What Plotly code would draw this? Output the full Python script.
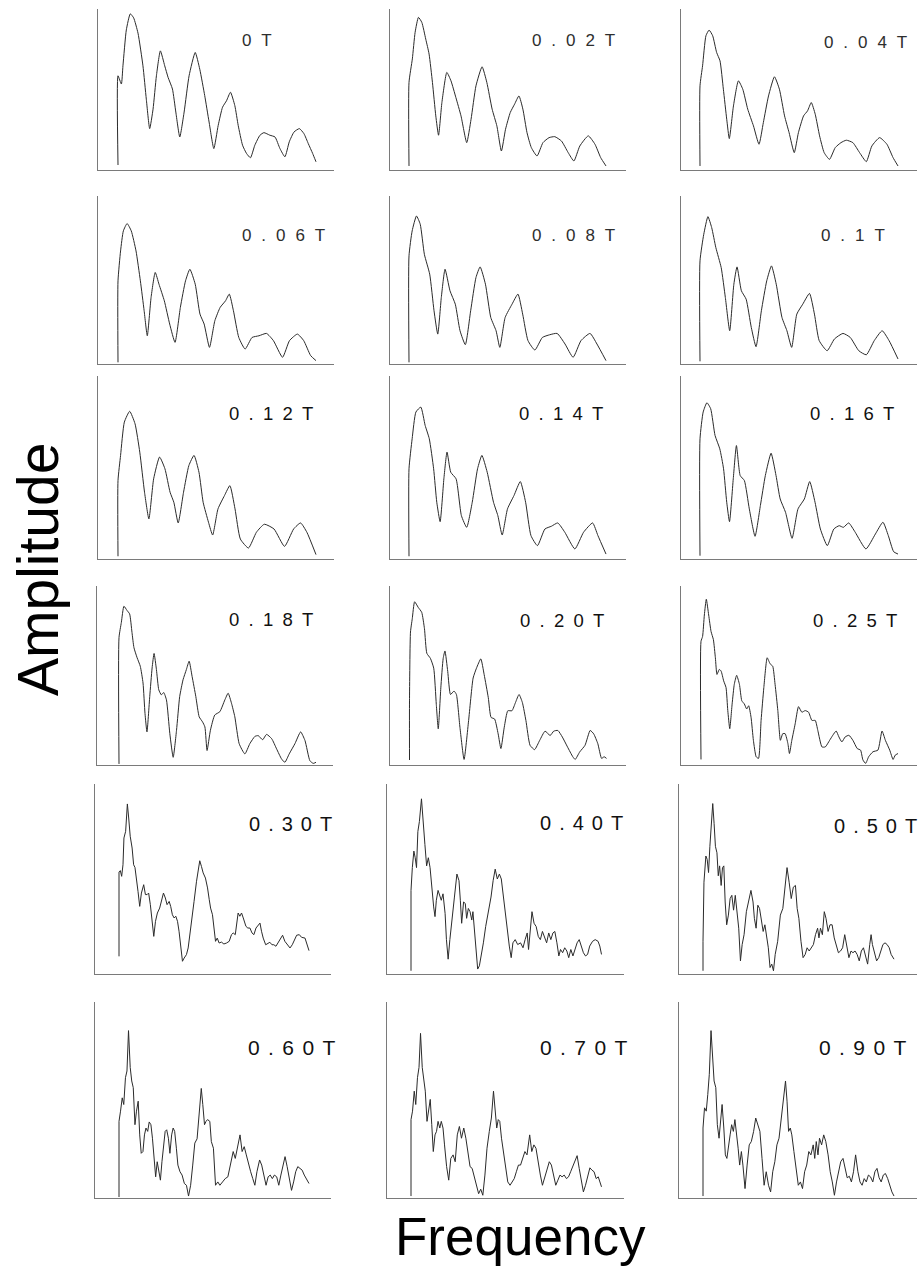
import plotly.graph_objects as go

W, H = 922, 1266

# Amplitude spectra, (frequency, amplitude) pairs; frequency 0-100, amplitude 0-100 of panel height
S_0T = [(0, 3.1), (0, 58.5), (1.7, 53.4), (2.5, 64.7), (4.2, 87), (6.2, 97), (7.9, 94.5), (10.1, 85), (12.6, 64.7),
        (14.3, 44), (16, 25.7), (17.7, 37.8), (19.4, 58.5), (21.4, 74), (23.6, 64.7), (25.3, 57.5), (27.5, 50.3),
        (29.2, 36), (31.2, 20.5), (33.4, 36), (35.9, 58.5), (39, 73), (41.3, 62.6), (43.8, 46.2), (46, 29.8),
        (48.4, 13.3), (50.6, 27.7), (52.8, 39), (54.8, 43), (56.8, 48.3), (59, 40), (60.7, 27.7), (62.9, 15.4),
        (64.9, 10.3), (66.9, 7.6), (69.1, 15.4), (71.7, 21.6), (73.7, 23.2), (76.7, 21.6), (79.3, 20.5),
        (81.8, 13.3), (84.3, 8.2), (86.5, 17.5), (88.9, 23.6), (91.6, 25.7), (93.9, 22.6), (96.1, 16.4),
        (98.3, 10.3), (100, 5.1)]

S_002T = [(0, 2.5), (0, 54.4), (1.7, 69), (3.1, 85.5), (4.8, 94.8), (6.5, 91.7), (8.5, 81.3), (10.2, 72),
          (11.9, 54.4), (13.6, 33.6), (15, 21.6), (16.7, 41.9), (19.2, 60.6), (21.3, 55.4), (23.8, 45),
          (26.4, 33.6), (29.3, 17), (31.5, 31.5), (34, 52.3), (37.1, 64.1), (39.5, 54.4), (42.2, 37.8),
          (44.6, 27.4), (46.9, 11.8), (49, 25.3), (51.4, 35.7), (53.6, 40.9), (55.8, 46), (57.8, 37.8),
          (59.9, 23.2), (62.1, 13.9), (65, 8.7), (68, 17), (71.1, 20.1), (74, 20.7), (77.4, 18), (80.8, 10.8),
          (83.7, 5.6), (86.7, 14.9), (91, 21.2), (94.4, 16), (97.3, 7.7), (100, 2.5)]

S_004T = [(0, 2.5), (0, 52.3), (1.3, 64.7), (3, 83.4), (4.6, 86.9), (6.4, 83.4), (8.4, 73), (10.1, 67.8),
          (11.8, 50.2), (13.5, 31.5), (14.8, 19.5), (16.9, 39.8), (19.4, 55.4), (21.6, 50.2), (24.1, 37.8),
          (27, 27.4), (29.8, 16), (32, 29.5), (34.6, 46), (37.6, 57.9), (40.1, 50.2), (42.7, 33.6), (45, 23.2),
          (47.6, 10.8), (49.7, 23.2), (52.3, 33.6), (54.3, 36.7), (56.2, 41.9), (58.2, 34.6), (60.4, 21.2),
          (62.7, 10.8), (65.4, 6.6), (68.3, 13.9), (71.2, 17), (73.9, 18.5), (77.2, 17), (80.6, 10.8), (84, 5.2),
          (86.8, 14.9), (90.7, 20.1), (94.4, 16), (97.5, 7.7), (100, 2.5)]

S_006T = [(0, 1), (0, 49.5), (1.3, 67.3), (2.7, 79.2), (4.6, 83.6), (6.7, 79.2), (9.1, 67.3), (11.3, 49.5),
          (13.2, 31.7), (14.8, 16.8), (16.7, 39.6), (18.8, 54.5), (20.7, 47.5), (23.4, 37.6), (26.1, 23.8),
          (28.8, 12.9), (31.5, 33.7), (34.1, 49.5), (36.3, 56.4), (39, 47.5), (41.4, 29.7), (43.5, 23.8),
          (46.2, 9.9), (48.9, 25.7), (51.6, 33.7), (54.3, 37.6), (56.2, 41.6), (58.3, 31.7), (61, 15.8),
          (64.2, 8.9), (67.7, 15.8), (71.2, 16.8), (75, 18.2), (78.5, 13.9), (83.1, 4), (86.6, 13.9),
          (90.6, 17.8), (93.8, 13.9), (97.3, 5), (100, 2)]

S_008T = [(0, 1), (0, 64.4), (1.6, 79.2), (3.8, 88.1), (5.7, 83.2), (7.8, 65.3), (10.5, 53.5), (12.7, 31.7),
          (14.6, 17.8), (16.4, 39.6), (18.3, 56.4), (20.8, 43.6), (23.5, 35.6), (25.9, 19.8), (28.6, 11.5),
          (31.3, 31.7), (34, 51.5), (36.1, 57.8), (38.8, 47.5), (41.5, 27.7), (44.2, 19.8), (46.1, 9.9),
          (48.8, 27.7), (52.3, 35.6), (55.3, 41.6), (57.7, 29.7), (60.4, 13.9), (63.9, 8.3), (67.7, 15.8),
          (71.4, 17.4), (75.2, 18.2), (79.2, 11.9), (83.3, 4), (87.3, 13.9), (91.9, 18.2), (95.4, 11.9), (100, 2)]

S_010T = [(0, 1.6), (0, 61.4), (1.9, 77.2), (4, 87.7), (5.9, 81.2), (8, 69.3), (10.7, 57.4), (12.8, 39.6),
          (15, 19.8), (17.1, 47.5), (18.7, 57.8), (20.9, 43.6), (23.3, 38.6), (25.9, 21.8), (28.3, 10.3),
          (31, 31.7), (33.7, 49.5), (36.1, 58.4), (38.5, 47.5), (41.4, 27.7), (43.9, 19.8), (46.3, 9.9),
          (48.9, 29.7), (51.9, 35.6), (55.3, 42), (57.8, 29.7), (60.2, 13.9), (64.2, 7.9), (67.9, 14.9),
          (72.2, 18.2), (75.9, 15.8), (80.2, 7.9), (84, 5.5), (88, 13.9), (92, 19.8), (95.5, 13.9), (100, 3)]

S_012T = [(0, 1.5), (0, 42.9), (1.3, 56.6), (3.2, 74.8), (5.9, 80.7), (8.6, 73.9), (11, 58.4), (13.4, 36.5),
          (15.6, 21.9), (18, 43.8), (21, 55.7), (23.7, 49.3), (26.3, 36.5), (28.2, 31), (30.4, 19.7),
          (33.1, 36.5), (35.8, 51.1), (38.4, 56.6), (40.9, 47.4), (43, 31), (45.7, 20.1), (47.8, 13.1),
          (50.5, 27.4), (53.8, 34.7), (56.5, 40.1), (59.1, 27.4), (61.8, 10.9), (65.9, 6), (69.9, 14.6),
          (73.9, 19), (78.8, 16.4), (84.1, 6.9), (88.7, 16.4), (92.2, 19.7), (95.4, 14.6), (100, 2.4)]

S_014T = [(0, 1.5), (0, 49.3), (1.6, 65.7), (3.5, 80.3), (6, 83), (8.2, 73), (10.3, 65.7), (12.5, 49.3),
          (14.1, 31), (15.8, 20.4), (17.7, 43.8), (19.3, 58.4), (21.2, 47.4), (23.9, 43.8), (26.6, 23.7),
          (29.3, 17.3), (32.1, 31), (34.8, 49.3), (37, 56.6), (39.7, 47.4), (42.9, 31), (45.1, 23.7),
          (47.3, 13.1), (50, 27.4), (53.3, 34.7), (56.5, 42.3), (59.2, 31), (61.9, 12.8), (65.2, 7.3),
          (69, 16.4), (72.3, 17.9), (75.5, 19.7), (79.1, 14.6), (84.2, 5.5), (88.6, 14.6), (93.2, 19.7),
          (95.9, 12.8), (100, 2.7)]

S_016T = [(0, 1.8), (0, 65.7), (1.6, 80.3), (3.5, 85.4), (5.4, 82.1), (7.6, 67.5), (10, 60.2), (11.9, 49.3),
          (13.5, 31), (14.9, 20.4), (16.8, 43.8), (18.4, 62), (20.3, 45.6), (22.4, 42.9), (24.9, 27.4),
          (27.8, 12.4), (30.5, 29.2), (33, 45.6), (35.9, 57.8), (38.4, 45.6), (40.5, 32.8), (43.2, 25.5),
          (46.5, 11.3), (49.5, 27.4), (52.7, 32.8), (55.4, 42.3), (58.1, 31), (60.8, 16.4), (64.3, 7.3),
          (67.6, 16.4), (70.3, 18.2), (72.4, 17.3), (75.1, 19.7), (78.4, 14.6), (83.8, 5.5), (88.6, 13.7),
          (92.4, 20.1), (95.1, 12.8), (97.8, 4), (100, 2.7)]

S_018T = [(0, 0.6), (0, 71.2), (1.2, 79.7), (2.5, 88.7), (4.1, 86.3), (5.4, 84.4), (6.6, 74), (7.6, 65.5),
          (9.2, 59.9), (10.8, 55.2), (12.2, 45.8), (13.2, 28.8), (14.2, 18.5), (15.6, 38.2), (16.8, 54.2),
          (17.8, 62.3), (19, 53.3), (20.2, 42), (21.5, 39.2), (22.7, 40.5), (24.1, 36.3), (25.8, 17.5),
          (27.5, 4.3), (29.2, 19.4), (30.8, 38.2), (32.5, 47.6), (34.2, 53.3), (35.6, 58), (37.1, 49.5),
          (39, 38.2), (40.7, 26.9), (42.4, 24.1), (43.6, 21.3), (44.7, 8.1), (46.4, 19.4), (48.6, 27.9),
          (51.2, 29.8), (53.7, 36.3), (55.4, 40.1), (57.1, 34.5), (58.8, 26.9), (61, 11.9), (63.9, 6.2),
          (66.4, 11.9), (69, 16), (70.7, 16.4), (72.9, 14.1), (74.9, 17.1), (77.5, 14.7), (80, 9), (82.5, 3.4),
          (84.2, 1.5), (86.4, 6.2), (89.3, 11.9), (92.2, 18.5), (94.4, 13.7), (96.9, 2.4), (98.6, 0.9), (100, 1.5)]

S_020T = [(0, 2.8), (0, 35.8), (0.5, 74.3), (1.4, 81.7), (2.6, 91.2), (4.4, 88.1), (6.2, 85.3), (7.6, 76.1),
          (8.8, 62.4), (10.6, 59.6), (12.3, 54.1), (13.6, 33.9), (14.6, 20.2), (15.9, 43.1), (17.1, 59.6),
          (18, 63.7), (19.4, 52.3), (20.8, 39.4), (22.6, 41.3), (23.8, 39.4), (25.6, 21.1), (27.7, 3.1),
          (30, 24.8), (32.3, 48.6), (34, 54.1), (36.2, 59.3), (37.9, 50.5), (40, 37.6), (41.4, 26.6),
          (43.2, 25.7), (45, 17.4), (46.4, 9.2), (48.1, 21.1), (49.9, 30.3), (52, 30.3), (53.8, 34.9),
          (55.6, 39.4), (57.3, 34.9), (59.1, 24.8), (61.2, 11), (63.5, 8.6), (66.1, 13.8), (68.8, 18.9),
          (71.4, 16.5), (73.2, 18.9), (75.3, 19.3), (77.6, 15.6), (80.2, 10.1), (82.9, 4.6), (84.1, 3.1),
          (86.4, 7.3), (89.1, 11), (91.7, 19.3), (93.5, 17.4), (95.6, 11.9), (97.5, 3.7), (98.8, 4.6), (100, 3.7)]

S_025T = [(0, 3.1), (0, 69.1), (0.8, 71.8), (1.7, 83.8), (2.7, 92.6), (3.9, 83.8), (5.1, 74.6), (6.3, 70),
          (7.3, 59.9), (8.1, 50.6), (9.3, 53.4), (10.2, 52.5), (11.5, 47), (12.7, 43.3), (13.6, 30.4),
          (14.6, 20.3), (15.8, 34.1), (16.9, 45.1), (18.1, 50.1), (19.5, 45.1), (20.7, 35.9), (22, 34.1),
          (23.2, 31.3), (24.2, 33.1), (25.4, 26.7), (26.6, 13.8), (28, 4.6), (29.2, 3.7), (30.5, 24.9),
          (31.9, 43.3), (33.6, 59.9), (35.1, 56.5), (36.4, 55.2), (37.6, 45.1), (39, 30.4), (40.3, 13.8),
          (41.5, 17.5), (42.7, 17.5), (44.1, 12), (44.9, 6.4), (46.1, 13.8), (47.8, 23), (49.5, 32.6),
          (51.2, 29.5), (52.9, 30.4), (54.6, 29.5), (56.3, 24.9), (58, 24.9), (59.3, 19.3), (61.4, 10.1),
          (63.1, 10.1), (65.3, 13.8), (66.9, 16.6), (68.6, 19), (70, 15.7), (71.5, 12.9), (73.2, 15.7),
          (75.1, 16.6), (77.1, 13.8), (79.3, 9.2), (81, 8.3), (82.2, 2.8), (83.6, 0.9), (85.1, 4.6), (87.3, 7.4),
          (89.8, 8.3), (91.9, 19), (93.6, 13.8), (95.8, 8.3), (97.5, 3.1), (98.6, 5.5), (100, 6.4)]

S_030T = [(0, 9.3), (0, 53.7), (0.7, 54.4), (1.4, 51.4), (2.1, 57.5), (2.6, 71.6), (3.5, 75.1), (4.4, 89.5),
          (5.1, 82.1), (5.9, 72.5), (6.9, 66.3), (7.7, 57.5), (8.4, 56.1), (9.1, 48.8), (10, 43.5), (10.9, 35.6),
          (11.8, 42.6), (13, 47), (13.9, 41.8), (14.8, 41.8), (15.6, 42.6), (16.5, 36.5), (17.4, 27.7),
          (18.3, 19.8), (19.2, 27.7), (20.2, 32.1), (21.4, 34.7), (22.3, 38.2), (23.4, 42.6), (24.4, 40),
          (25.3, 36.5), (26.4, 38.2), (27.2, 35.6), (28.1, 31.2), (29, 29.5), (29.9, 30.4), (30.8, 27.7),
          (31.6, 22.5), (32.3, 15.4), (33.4, 6.7), (34.3, 8.4), (35.5, 10.2), (36.4, 13.7), (37.3, 20.7),
          (38.5, 27.7), (39.5, 38.2), (40.8, 48.8), (41.7, 54.9), (42.5, 59.6), (43.4, 56.6), (44.3, 53.2),
          (45.5, 50.5), (46.6, 45.3), (47.5, 39.1), (48.2, 34.7), (49.2, 31.2), (49.9, 24.2), (50.8, 17.2),
          (51.7, 18.9), (52.7, 16.3), (53.9, 16.8), (55.2, 15.8), (56.6, 16.3), (58, 17.2), (59.2, 20.7),
          (60.1, 21.6), (61.2, 20.7), (61.9, 26), (62.7, 32.1), (63.6, 30.4), (64.5, 32.1), (65.4, 29.5),
          (66.8, 25.1), (67.8, 24.2), (68.9, 24.2), (70, 21.6), (71, 20.7), (72.1, 24.2), (73.3, 26),
          (74.2, 26.8), (75, 22.5), (75.9, 18.9), (77.2, 15.4), (78.2, 15.8), (79.4, 16.7), (80.5, 15.4),
          (81.5, 15.4), (82.6, 14.6), (83.7, 16.3), (85.1, 18.9), (86.1, 20.4), (87.3, 17.2), (88.6, 15.4),
          (90, 13.7), (91.2, 15.4), (92.3, 18.1), (93.5, 20.4), (94.9, 20.7), (96.1, 19.3), (97.9, 18.9),
          (98.8, 15.4), (100, 12.3)]

S_040T = [(0, 1.7), (0, 44), (0.7, 56), (1.5, 64.7), (2.2, 61.2), (2.9, 56), (3.6, 75), (4.4, 80.2), (5.5, 92.2),
          (6.4, 78.4), (7.3, 68.1), (8.2, 56.9), (9.1, 61.2), (10, 56), (11, 44), (11.9, 35.3), (12.6, 30.2),
          (13.3, 38.8), (14.2, 44), (15.1, 41.4), (15.9, 38.8), (16.8, 42.2), (17.9, 31.9), (18.6, 18.1),
          (19.5, 7.8), (20.4, 18.1), (21.5, 30.2), (22.8, 40.5), (24.1, 52.6), (25.2, 49.1), (25.9, 38.8),
          (26.6, 26.7), (27.6, 37.9), (28.5, 37.1), (29.2, 29.3), (30.1, 34.5), (31, 32.8), (31.9, 28.4),
          (32.5, 32.8), (33.2, 24.1), (34.1, 12.9), (35, 2.6), (35.9, 4.3), (36.9, 9.5), (38, 16.4), (39.2, 25),
          (40.5, 31.9), (42, 40.5), (43.1, 49.1), (44.2, 55.2), (45.3, 50), (46.4, 52.6), (47.4, 50),
          (48.5, 40.5), (49.6, 31.9), (50.7, 21.6), (51.6, 14.7), (52.6, 8.6), (53.5, 16.4), (54.7, 18.1),
          (56, 15.5), (57.5, 16.4), (58.8, 13.8), (59.9, 18.1), (61, 21.6), (61.7, 12.9), (62.6, 21.6),
          (63.5, 32.8), (64.6, 26.7), (65.7, 25), (66.8, 19.8), (67.9, 18.1), (69, 22.4), (70.1, 19.8),
          (71.2, 16.4), (72.3, 21.6), (73.4, 18.1), (74.5, 21.6), (75.5, 22.4), (76.6, 16.4), (77.6, 9.5),
          (78.5, 12.9), (79.6, 11.2), (80.7, 13.8), (81.8, 12.1), (82.8, 8.6), (83.9, 12.9), (85, 9.5),
          (86.1, 12.9), (87.2, 16.4), (88.3, 18.1), (89.4, 14.7), (90.5, 11.2), (91.6, 9.5), (92.7, 10.3),
          (93.8, 14.7), (95.3, 17.2), (96.7, 18.1), (98.2, 17.2), (99.1, 14.7), (100, 10.3)]

S_050T = [(0, 1.7), (0, 17.2), (0.5, 48.3), (1.5, 62.1), (2.2, 60.3), (2.9, 53.4), (3.6, 67.2), (4.4, 79.3),
          (5.1, 89.7), (5.8, 79.3), (6.5, 67.2), (7.3, 63.8), (8, 51.7), (8.7, 56.9), (9.5, 46.6), (10.2, 55.9),
          (10.9, 56.9), (11.6, 37.9), (12.4, 25.9), (13.3, 31), (14.2, 39.7), (15.1, 41.4), (16, 33.6),
          (16.9, 41.4), (17.8, 31), (18.7, 24.1), (19.6, 6.9), (20.5, 15.5), (21.5, 20.7), (22.7, 32.8),
          (23.8, 37.9), (25.1, 44), (26.2, 37.9), (26.9, 29.3), (27.8, 24.1), (28.7, 36.2), (29.6, 34.5),
          (30.5, 29.3), (31.5, 22.4), (32.4, 25.9), (33.3, 20.7), (34.2, 13.8), (35.1, 3.4), (36, 5.2),
          (36.9, 1.7), (37.8, 10.3), (39.1, 17.2), (40.5, 31), (41.8, 34.5), (42.9, 46.6), (44, 56), (45.1, 48.3),
          (46.2, 39.7), (47.3, 45.7), (48.4, 46.6), (49.3, 34.5), (50.2, 29.3), (51.3, 17.2), (52.4, 8.6),
          (53.5, 10.3), (54.5, 13.8), (55.6, 12.1), (56.7, 13.8), (57.8, 15.5), (58.9, 20.7), (60, 24.1),
          (60.7, 19), (61.5, 24.1), (62.5, 20.7), (63.5, 32.8), (64.4, 29.3), (65.5, 22.4), (66.5, 25.9),
          (67.6, 25.9), (68.7, 19), (69.8, 15.5), (70.9, 11.2), (72, 12.1), (73.1, 13.8), (74.2, 20.7),
          (75.3, 15.5), (76.4, 8.6), (77.5, 12.1), (78.5, 11.2), (79.6, 12.1), (80.7, 10.3), (81.8, 6.9),
          (82.9, 12.1), (84, 13.8), (85.1, 8.6), (86.2, 5.2), (87.3, 15.5), (88, 20.7), (88.7, 15.5), (89.8, 10.3),
          (90.9, 6.9), (92, 8.6), (93.1, 12.1), (94.2, 15.5), (95.3, 16.4), (96.4, 15.5), (97.5, 13.8),
          (98.5, 10.3), (100, 7.8)]

S_060T = [(0, 0.5), (0, 39.1), (0.8, 44.3), (1.7, 51.1), (2.5, 47.7), (3.4, 61.4), (4.2, 64.8), (5, 85.4),
          (5.9, 66.6), (6.7, 59.7), (7.5, 56.3), (8.4, 37.4), (9.2, 44.3), (10.1, 49.4), (10.9, 32.2), (11.7, 22.8),
          (12.6, 23.7), (13.4, 32.2), (14.2, 35.7), (15.1, 34), (15.9, 38.8), (16.8, 37.4), (17.6, 30.5),
          (18.4, 20.2), (19.3, 10.8), (20.1, 18.5), (20.9, 13.4), (21.8, 9.1), (22.6, 18.5), (23.5, 27.1),
          (24.3, 34), (25.1, 34.8), (26, 30.5), (26.8, 22.8), (27.7, 32.2), (28.5, 35.7), (29.3, 34), (30.2, 25.4),
          (31, 16.8), (32.1, 13.4), (33.2, 11.7), (34.4, 7.4), (35.5, 6.5), (36.6, 1), (37.7, 6.5), (38.8, 16.8),
          (39.9, 28), (41.1, 30.2), (42.2, 44.3), (43.3, 55.9), (44.1, 47.7), (45, 37.4), (45.8, 39.1), (46.6, 40),
          (47.8, 39.1), (48.6, 28.8), (49.7, 25.4), (50.8, 6.5), (52, 8.2), (53.1, 6.5), (54.5, 8.2), (55.9, 9.9),
          (57.3, 10.8), (58.7, 16.8), (60.1, 23.7), (61.2, 20.2), (62.3, 25.4), (63.7, 32.2), (64.8, 23.7),
          (65.9, 26.2), (67, 22), (68.2, 16.8), (69.3, 13.4), (70.4, 9.9), (71.5, 6.5), (72.6, 13.4), (74, 19.4),
          (75.1, 16.8), (76.3, 10.8), (77.4, 6.5), (78.5, 10.8), (79.6, 11.7), (80.7, 9.9), (81.8, 11.7),
          (83, 10.8), (84.1, 6.5), (85.2, 11.7), (86.3, 16.8), (87.4, 21.1), (88.5, 16), (89.7, 9.1), (90.8, 3.9),
          (91.9, 8.2), (93, 13.4), (94.1, 16), (95.3, 15.1), (96.4, 14.2), (97.5, 11.7), (98.6, 9.9), (100, 7.4)]

S_070T = [(0, 1), (0, 40), (0.8, 44.3), (1.7, 54.5), (2.5, 47.7), (3.4, 61.4), (4.2, 66.6), (5, 84), (5.9, 66.6),
          (6.7, 59.7), (7.5, 54.5), (8.4, 39.1), (9.2, 44.3), (10.1, 50.3), (10.9, 37.4), (11.7, 23.7),
          (12.6, 32.2), (13.4, 34), (14.2, 39.1), (15.1, 35.7), (15.9, 39.1), (16.8, 35.7), (17.6, 27.1),
          (18.7, 16), (19.8, 9.1), (20.9, 20.2), (22.1, 22), (23.2, 18.5), (24.3, 32.2), (25.4, 36.5),
          (26.5, 30.5), (27.7, 35.7), (28.8, 30.5), (29.9, 22), (31, 16), (32.1, 15.1), (33.2, 10.8), (34.4, 6.5),
          (35.5, 2.2), (36.6, 4.5), (37.7, 1.4), (38.8, 11.7), (39.9, 25.4), (41.1, 34), (42.2, 40.8),
          (43.3, 54.5), (44.1, 44.3), (45, 35.7), (45.8, 40), (46.6, 39.1), (47.5, 30.5), (48.6, 23.7),
          (49.7, 15.1), (50.8, 8.2), (52, 6.5), (53.1, 8.2), (54.2, 9.9), (55.3, 13.4), (56.4, 16.8), (57.5, 16.8),
          (58.7, 20.2), (59.8, 23.7), (60.9, 22), (62.3, 32.2), (63.4, 23.7), (64.5, 27.1), (65.6, 25.4),
          (66.8, 16.8), (67.9, 11.7), (69, 6.5), (70.1, 9.9), (71.2, 13.4), (72.6, 18.5), (73.7, 16.8),
          (74.9, 11.7), (76, 6.5), (77.1, 9.1), (78.2, 11.7), (79.3, 10.8), (80.4, 11.7), (81.6, 9.9), (82.7, 10.8),
          (83.8, 13.4), (84.9, 16), (86, 18.5), (87.2, 21.6), (88.3, 15.1), (89.4, 8.2), (90.5, 3.1), (91.6, 6.5),
          (92.7, 10.8), (93.9, 15.4), (95, 14.2), (96.1, 13.4), (97.2, 9.9), (98.3, 10.8), (100, 5.7)]

S_090T = [(0, 1), (0, 35.7), (0.8, 46), (1.7, 44.3), (2.5, 52.8), (3.3, 63.1), (4.2, 85.4), (5, 71.7), (5.8, 59.7),
          (6.7, 56.3), (7.5, 37.4), (8.4, 30.5), (9.2, 40.8), (10, 47.7), (10.9, 35.7), (11.7, 22), (12.5, 20.2),
          (13.4, 25.4), (14.2, 32.2), (15, 37.4), (15.9, 34), (16.7, 40), (17.5, 34), (18.4, 25.4), (19.2, 16.8),
          (20.1, 23.7), (20.9, 16.8), (22, 4.8), (23.1, 16.8), (24.2, 27.1), (25.3, 28.8), (26.5, 34),
          (27.6, 40.8), (28.7, 37.4), (29.8, 34), (30.9, 20.2), (32, 6.5), (33.1, 13.4), (34.3, 6.5), (35.4, 3.1),
          (36.5, 13.4), (37.6, 18.5), (38.7, 27.1), (39.8, 30.5), (40.9, 40.8), (42.1, 52.8), (43.2, 59.7),
          (44, 49.4), (44.8, 34), (45.7, 35.7), (46.5, 32.2), (47.6, 23.7), (48.7, 15.1), (49.9, 6.5), (51, 8.2),
          (52.1, 4.8), (53.2, 13.4), (54.3, 16.8), (55.4, 23.7), (56.5, 22), (57.7, 27.1), (58.5, 20.2),
          (59.3, 28.8), (60.2, 22), (61, 30.5), (62.1, 27.1), (63.2, 32.2), (64.3, 28.8), (65.5, 22), (66.6, 13.4),
          (67.7, 8.2), (68.8, 1.4), (69.9, 8.2), (71, 13.4), (72.1, 18.5), (73.3, 20.2), (74.4, 15.1), (75.5, 10.3),
          (76.6, 11.1), (77.7, 8.2), (78.8, 13.4), (79.9, 22), (81.1, 13.4), (82.2, 8.2), (83.3, 6.5), (84.4, 9.9),
          (85.5, 8.2), (86.6, 11.7), (87.7, 10.8), (88.9, 8.2), (90, 13.4), (91.1, 15.1), (92.2, 10.3), (93.3, 8.2),
          (94.4, 11.7), (95.5, 12.5), (96.7, 9.9), (97.8, 6.5), (98.9, 3.1), (100, 1)]

SPECTRA = [S_0T, S_002T, S_004T, S_006T, S_008T, S_010T, S_012T, S_014T, S_016T,
           S_018T, S_020T, S_025T, S_030T, S_040T, S_050T, S_060T, S_070T, S_090T]

LABELS = ["0 T", "0.02 T", "0.04 T", "0.06 T", "0.08 T", "0.1 T", "0.12 T", "0.14 T", "0.16 T",
          "0.18 T", "0.20 T", "0.25 T", "0.30T", "0.40T", "0.50T", "0.60T", "0.70T", "0.90T"]

# ---- panel geometry (pixels) ----
ROW_TB = [(9, 170), (196, 364), (376, 559), (586, 765), (784, 974), (1002, 1198)]
GEOM_A = [(98, 334, 118, 316), (390, 626, 409, 606), (681, 917, 700, 898)]
GEOM_B = [(97, 333, 119, 316), (390, 626, 409.5, 606.5), (681, 917, 701, 898)]
GEOM_C = [(95, 331, 119, 309), (387, 624, 411, 601.5), (679, 917, 703, 894)]
ROW_GEOM = [GEOM_A, GEOM_A, GEOM_A, GEOM_B, GEOM_C, GEOM_C]

# label placement: left x, centre y per panel; font size, letter gap and colour per row
LABEL_POS = [(240, 41), (530, 41), (822, 42),
             (240, 236), (530, 236), (819, 236),
             (227, 413), (517, 413), (808, 413),
             (227, 619), (518, 620), (811, 620),
             (247, 824), (538, 823), (832, 826),
             (246, 1047), (538, 1047), (817, 1047)]
ROW_FONT = [(17, "\u2002\u200a", "#2e2e2e"), (17, "\u2002\u200a", "#2e2e2e"),
            (18.5, "\u2002", "#111111"), (18.5, "\u2002", "#111111"),
            (20, "\u2009\u2009", "#111111"), (21, "\u2009\u2009", "#111111")]

FONT = "Liberation Sans, Arial, sans-serif"
AXIS_COLOR = "#7a7a7a"
CURVE_COLOR = "#2b2b2b"

fig = go.Figure()
layout = dict(width=W, height=H, margin=dict(l=0, r=0, t=0, b=0),
              paper_bgcolor="white", plot_bgcolor="white", showlegend=False)
annotations = []

for i, (spec, label) in enumerate(zip(SPECTRA, LABELS)):
    r, c = divmod(i, 3)
    top, bot = ROW_TB[r]
    left, right, s, e = ROW_GEOM[r][c]
    k = "" if i == 0 else str(i + 1)
    u = 100.0 / (e - s)
    xs = [p[0] for p in spec]
    ys = [p[1] for p in spec]
    if r < 4:
        line = dict(color=CURVE_COLOR, width=1, shape="spline", smoothing=0.5)
    else:
        line = dict(color=CURVE_COLOR, width=1)
    fig.add_trace(go.Scatter(x=xs, y=ys, mode="lines", line=line, hoverinfo="skip",
                             xaxis="x" + k, yaxis="y" + k))
    common = dict(showline=True, linecolor=AXIS_COLOR, linewidth=1, showgrid=False,
                  zeroline=False, showticklabels=False, ticks="", fixedrange=True)
    layout["xaxis" + k] = dict(domain=[left / W, right / W],
                               range=[(left - s) * u, (right - s) * u],
                               anchor="y" + k, **common)
    layout["yaxis" + k] = dict(domain=[1 - bot / H, 1 - top / H], range=[0, 100],
                               anchor="x" + k, **common)
    size, gap, color = ROW_FONT[r]
    text = gap.join(ch for ch in label if ch != " ")
    lx, ly = LABEL_POS[i]
    annotations.append(dict(text=text, x=lx / W, y=1 - ly / H, xref="paper", yref="paper",
                            xanchor="left", yanchor="middle", showarrow=False,
                            font=dict(family=FONT, size=size, color=color)))

annotations.append(dict(text="Amplitude", x=38 / W, y=1 - 570 / H, xref="paper", yref="paper",
                        xanchor="center", yanchor="middle", textangle=-90, showarrow=False,
                        font=dict(family=FONT, size=57, color="black")))
annotations.append(dict(text="Frequency", x=520 / W, y=1 - 1236 / H, xref="paper", yref="paper",
                        xanchor="center", yanchor="middle", showarrow=False,
                        font=dict(family=FONT, size=53, color="black")))

layout["annotations"] = annotations
fig.update_layout(**layout)
fig.write_html("out.html")
